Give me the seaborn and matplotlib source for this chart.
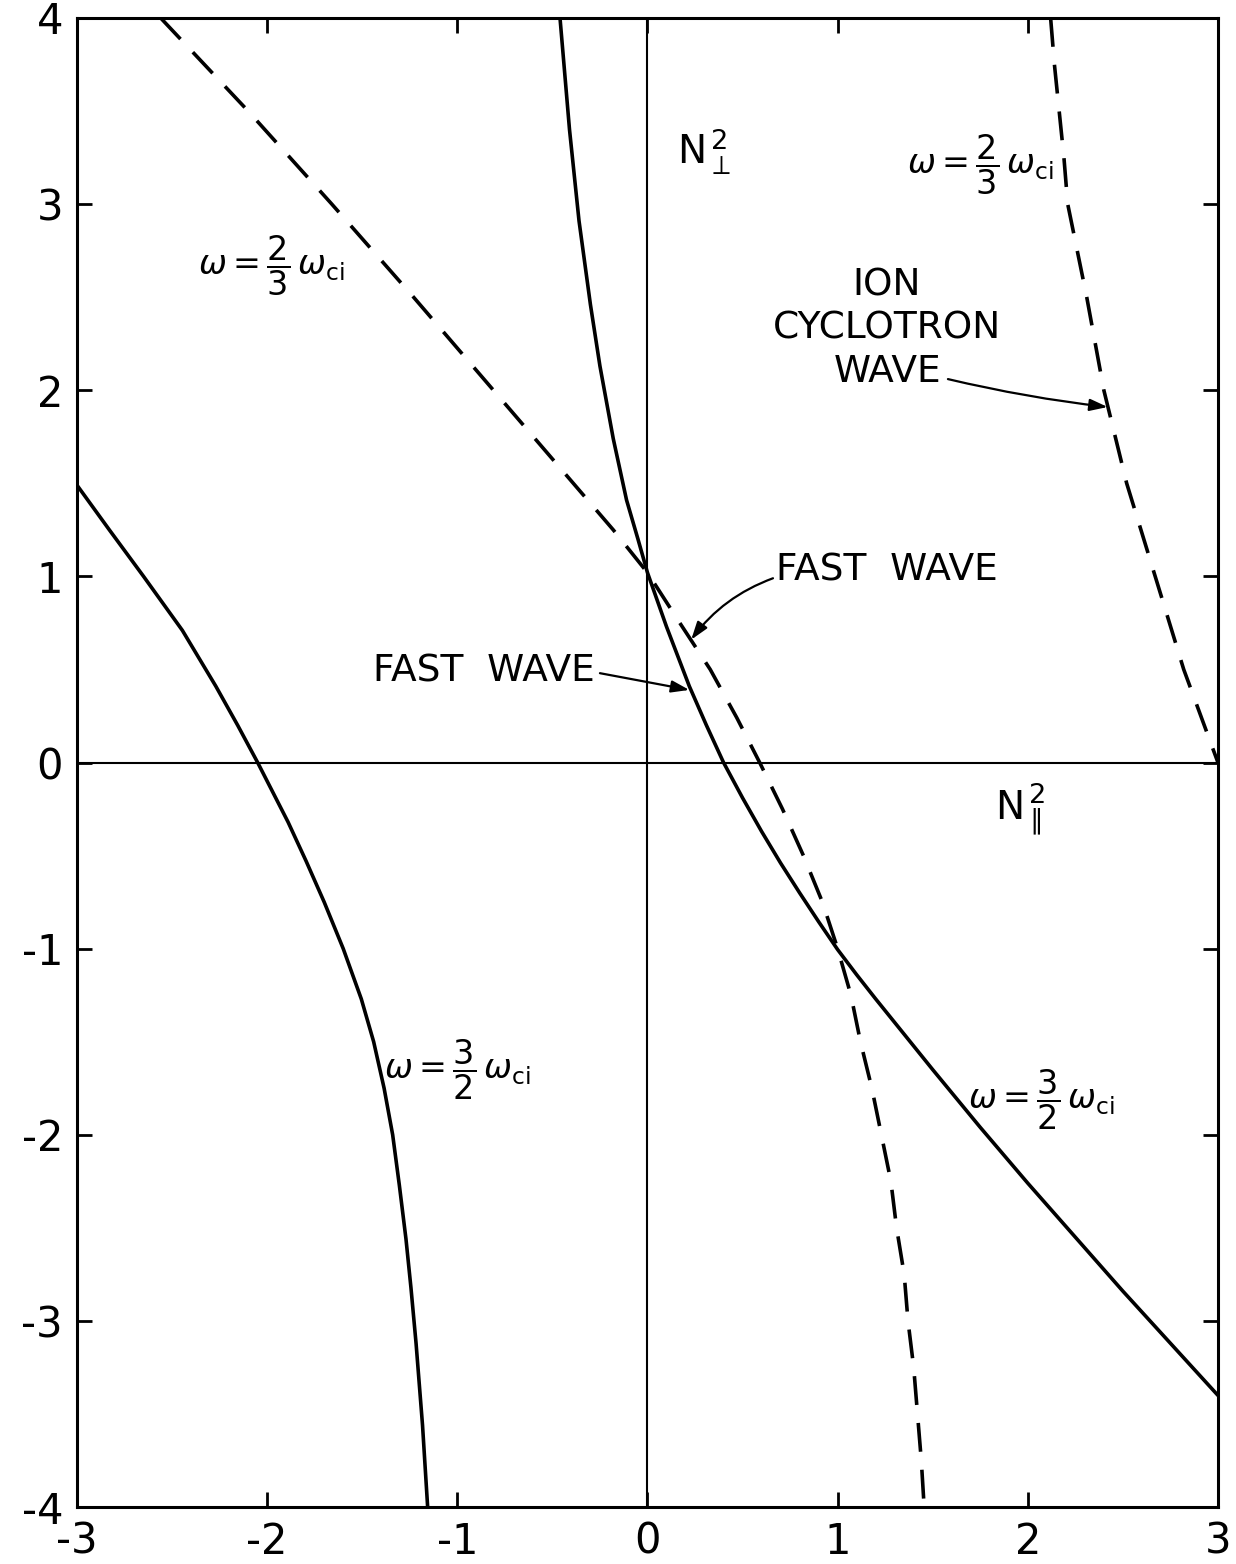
import matplotlib
matplotlib.use("Agg")
import matplotlib.pyplot as plt
import seaborn as sns
import pandas as pd
from matplotlib import font_manager

# ---- data (x = N_par^2, y = N_perp^2) ----
# omega = 3/2 omega_ci, left branch (solid)
solid_left_x = [-3.0, -2.83, -2.65, -2.446, -2.27, -2.155, -2.05, -1.89, -1.795, -1.70, -1.60,
                -1.505, -1.44, -1.385, -1.34, -1.305, -1.27, -1.244, -1.217, -1.183, -1.156]
solid_left_y = [1.49, 1.25, 1.0, 0.71, 0.41, 0.20, 0.0, -0.32, -0.53, -0.75, -1.0,
                -1.27, -1.50, -1.75, -2.0, -2.27, -2.56, -2.82, -3.12, -3.56, -4.0]
# omega = 3/2 omega_ci, fast wave branch (solid)
solid_right_x = [-0.46, -0.41, -0.36, -0.30, -0.25, -0.18, -0.11, -0.05, 0.0, 0.10, 0.22, 0.31, 0.40,
                 0.50, 0.60, 0.70, 0.80, 0.90, 1.00, 1.10, 1.20, 1.35, 1.50, 1.75, 2.00, 2.25,
                 2.50, 2.75, 3.0]
solid_right_y = [4.0, 3.40, 2.91, 2.46, 2.13, 1.74, 1.41, 1.20, 1.02, 0.73, 0.41, 0.20, 0.0,
                 -0.19, -0.37, -0.54, -0.70, -0.855, -1.005, -1.14, -1.27, -1.46, -1.65, -1.96, -2.26, -2.55,
                 -2.84, -3.12, -3.40]
# omega = 2/3 omega_ci, fast wave branch (dashed)
dash_fast_x = [-2.56, -2.10, -1.66, -1.23, -0.81, -0.39, -0.18, 0.0, 0.17, 0.33, 0.47, 0.59,
               0.71, 0.82, 0.92, 1.00, 1.07, 1.12, 1.18, 1.23, 1.28, 1.31, 1.35, 1.37, 1.40, 1.42, 1.44, 1.455]
dash_fast_y = [4.0, 3.5, 3.0, 2.5, 2.0, 1.5, 1.25, 1.02, 0.75, 0.50, 0.24, 0.0,
               -0.25, -0.5, -0.75, -1.0, -1.25, -1.5, -1.75, -2.0, -2.25, -2.5, -2.75, -3.0, -3.25, -3.5, -3.75, -4.0]
# omega = 2/3 omega_ci, ion cyclotron wave (dashed)
dash_icw_x = [2.12, 2.14, 2.165, 2.19, 2.21, 2.26, 2.31, 2.355, 2.40, 2.46, 2.52, 2.595, 2.67, 2.745,
              2.82, 2.91, 3.0]
dash_icw_y = [4.0, 3.75, 3.5, 3.25, 3.0, 2.75, 2.5, 2.25, 2.0, 1.75, 1.5, 1.25, 1.0, 0.75,
              0.5, 0.25, 0.0]

x_ticks = [-3, -2, -1, 0, 1, 2, 3]
y_ticks = [-4, -3, -2, -1, 0, 1, 2, 3, 4]

# ---- style ----
sns.set_theme(style="ticks")
names = {f.name for f in font_manager.fontManager.ttflist}
narrow = "Liberation Sans Narrow" if "Liberation Sans Narrow" in names else "DejaVu Sans"
plt.rcParams["font.family"] = [narrow, "DejaVu Sans"]
plt.rcParams["mathtext.fontset"] = "dejavusans"
plt.rcParams["axes.unicode_minus"] = False
plt.rcParams["text.color"] = "black"
plt.rcParams["xtick.color"] = "black"
plt.rcParams["ytick.color"] = "black"

fig = plt.figure(figsize=(12.36, 15.64), dpi=100)
ax = fig.add_axes([0.0623, 0.0364, 0.9231, 0.9521])

lw = 2.6
def draw(xs, ys, dashed):
    df = pd.DataFrame({"x": xs, "y": ys})
    sns.lineplot(data=df, x="x", y="y", ax=ax, sort=False, estimator=None,
                 color="black", linewidth=lw, solid_joinstyle="round",
                 dash_capstyle="butt",
                 linestyle=(0, (8, 5)) if dashed else "-")

draw(solid_left_x, solid_left_y, False)
draw(solid_right_x, solid_right_y, False)
draw(dash_fast_x, dash_fast_y, True)
draw(dash_icw_x, dash_icw_y, True)

ax.axhline(0, color="black", lw=1.5, zorder=1)
ax.axvline(0, color="black", lw=1.5, zorder=1)

ax.set_xlim(-3, 3)
ax.set_ylim(-4, 4)
ax.set_xticks(x_ticks)
ax.set_yticks(y_ticks)
ax.set_xlabel("")
ax.set_ylabel("")
ax.tick_params(direction="in", length=11, width=2, labelsize=30,
               top=True, right=True, pad=10, color="black", labelcolor="black")
for s in ax.spines.values():
    s.set_visible(True)
    s.set_linewidth(2.2)
    s.set_color("black")

# ---- labels ----
fs = 24
om23 = r"$\omega = \dfrac{2}{3}\,\omega_{\mathrm{ci}}$"
om32 = r"$\omega = \dfrac{3}{2}\,\omega_{\mathrm{ci}}$"
ax.text(-1.98, 2.67, om23, fontsize=fs, ha="center", va="center")
ax.text(1.75, 3.21, om23, fontsize=fs, ha="center", va="center")
ax.text(-1.0, -1.65, om32, fontsize=fs, ha="center", va="center")
ax.text(2.07, -1.81, om32, fontsize=fs, ha="center", va="center")
ax.text(0.30, 3.28, r"$\mathrm{N}_{\perp}^{\,2}$", fontsize=28, ha="center", va="center")
ax.text(1.96, -0.25, r"$\mathrm{N}_{\parallel}^{\,2}$", fontsize=28, ha="center", va="center")

tfs = 27
ax.text(1.26, 2.33, "ION\nCYCLOTRON\nWAVE", fontsize=tfs, ha="center", va="center",
        linespacing=1.25)
ax.text(1.26, 1.03, "FAST  WAVE", fontsize=tfs, ha="center", va="center")
ax.text(-0.86, 0.49, "FAST  WAVE", fontsize=tfs, ha="center", va="center")

arrow = dict(arrowstyle="-|>,head_length=0.9,head_width=0.3", color="black", lw=1.6,
             shrinkA=0, shrinkB=0)
ax.annotate("", xy=(2.42, 1.91), xytext=(1.58, 2.06),
            arrowprops=dict(arrow, connectionstyle="arc3,rad=0.03"))
ax.annotate("", xy=(0.23, 0.66), xytext=(0.66, 0.99),
            arrowprops=dict(arrow, connectionstyle="arc3,rad=0.15"))
ax.annotate("", xy=(0.22, 0.39), xytext=(-0.25, 0.48),
            arrowprops=dict(arrow, connectionstyle="arc3,rad=0.0"))

fig.savefig("out.png", dpi=100)
